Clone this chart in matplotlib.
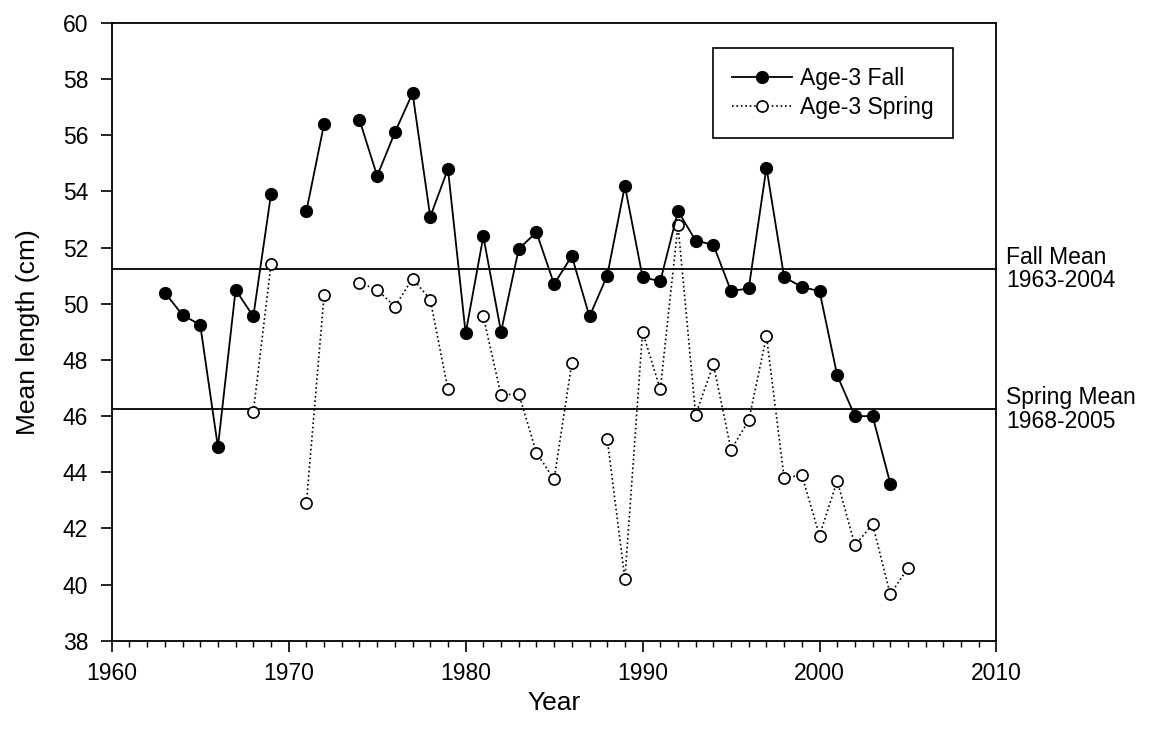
import numpy as np
import matplotlib
matplotlib.use('Agg')
import matplotlib.pyplot as plt
from matplotlib.ticker import MultipleLocator

plt.rcParams['font.family'] = ['Liberation Sans', 'DejaVu Sans']

nan = np.nan
fall_years = list(range(1963, 2005))
fall_len = [50.4, 49.6, 49.25, 44.9, 50.5, 49.55, 53.9, nan, 53.3, 56.4,
            nan, 56.55, 54.55, 56.1, 57.5, 53.1, 54.8, 48.95, 52.4, 49.0,
            51.95, 52.55, 50.7, 51.7, 49.55, 51.0, 54.2, 50.95, 50.8, 53.3,
            52.25, 52.1, 50.45, 50.55, 54.85, 50.95, 50.6, 50.45, 47.45, 46.0,
            46.0, 43.6]

spring_years = list(range(1968, 2006))
spring_len = [46.15, 51.4, nan, 42.9, 50.3, nan, 50.75, 50.5, 49.9, 50.9,
              50.15, 46.95, nan, 49.55, 46.75, 46.8, 44.7, 43.75, 47.9, nan,
              45.2, 40.2, 49.0, 46.95, 52.8, 46.05, 47.85, 44.8, 45.85, 48.85,
              43.8, 43.9, 41.75, 43.7, 41.4, 42.15, 39.65, 40.6]

fall_mean = 51.24
spring_mean = 46.25

fig = plt.figure(figsize=(11.52, 7.4), dpi=100)
ax = fig.add_axes([0.097, 0.134, 0.768, 0.835])

ax.axhline(fall_mean, color='black', lw=1.3, zorder=1)
ax.axhline(spring_mean, color='black', lw=1.3, zorder=1)

ax.plot(fall_years, fall_len, color='black', lw=1.3, marker='o', ms=8.5,
        mfc='black', mec='black', label='Age-3 Fall', zorder=3)
ax.plot(spring_years, spring_len, color='black', lw=1.2, ls=':', marker='o', ms=8,
        mfc='white', mec='black', mew=1.2, label='Age-3 Spring', zorder=2)

ax.set_xlim(1960, 2010)
ax.set_ylim(38, 60)
ax.xaxis.set_major_locator(MultipleLocator(10))
ax.xaxis.set_minor_locator(MultipleLocator(1))
ax.yaxis.set_major_locator(MultipleLocator(2))
ax.tick_params(which='major', direction='out', length=8, width=1.2, labelsize=16.5)
ax.tick_params(which='minor', direction='out', length=4, width=1.0)
ax.tick_params(axis='y', pad=9)
ax.tick_params(axis='x', pad=7)
for s in ax.spines.values():
    s.set_linewidth(1.3)

ax.set_xlabel('Year', fontsize=19, va='center')
ax.set_ylabel('Mean length (cm)', fontsize=19, va='center')
ax.xaxis.set_label_coords(0.5, -0.1)
ax.yaxis.set_label_coords(-0.095, 0.5)

ax.text(1.011, (fall_mean - 38) / 22, 'Fall Mean\n1963-2004', transform=ax.transAxes,
        fontsize=16.5, va='center', ha='left', linespacing=1.05)
ax.text(1.011, (spring_mean - 38) / 22, 'Spring Mean\n1968-2005', transform=ax.transAxes,
        fontsize=16.5, va='center', ha='left', linespacing=1.05)

leg = ax.legend(loc='upper right', bbox_to_anchor=(0.951, 0.96), borderaxespad=0,
                fontsize=16.5, fancybox=False, framealpha=1, edgecolor='black',
                handlelength=2.6, handletextpad=0.35, borderpad=0.85, labelspacing=0.25)
leg.get_frame().set_linewidth(1.2)

fig.savefig('out.png', dpi=100)
